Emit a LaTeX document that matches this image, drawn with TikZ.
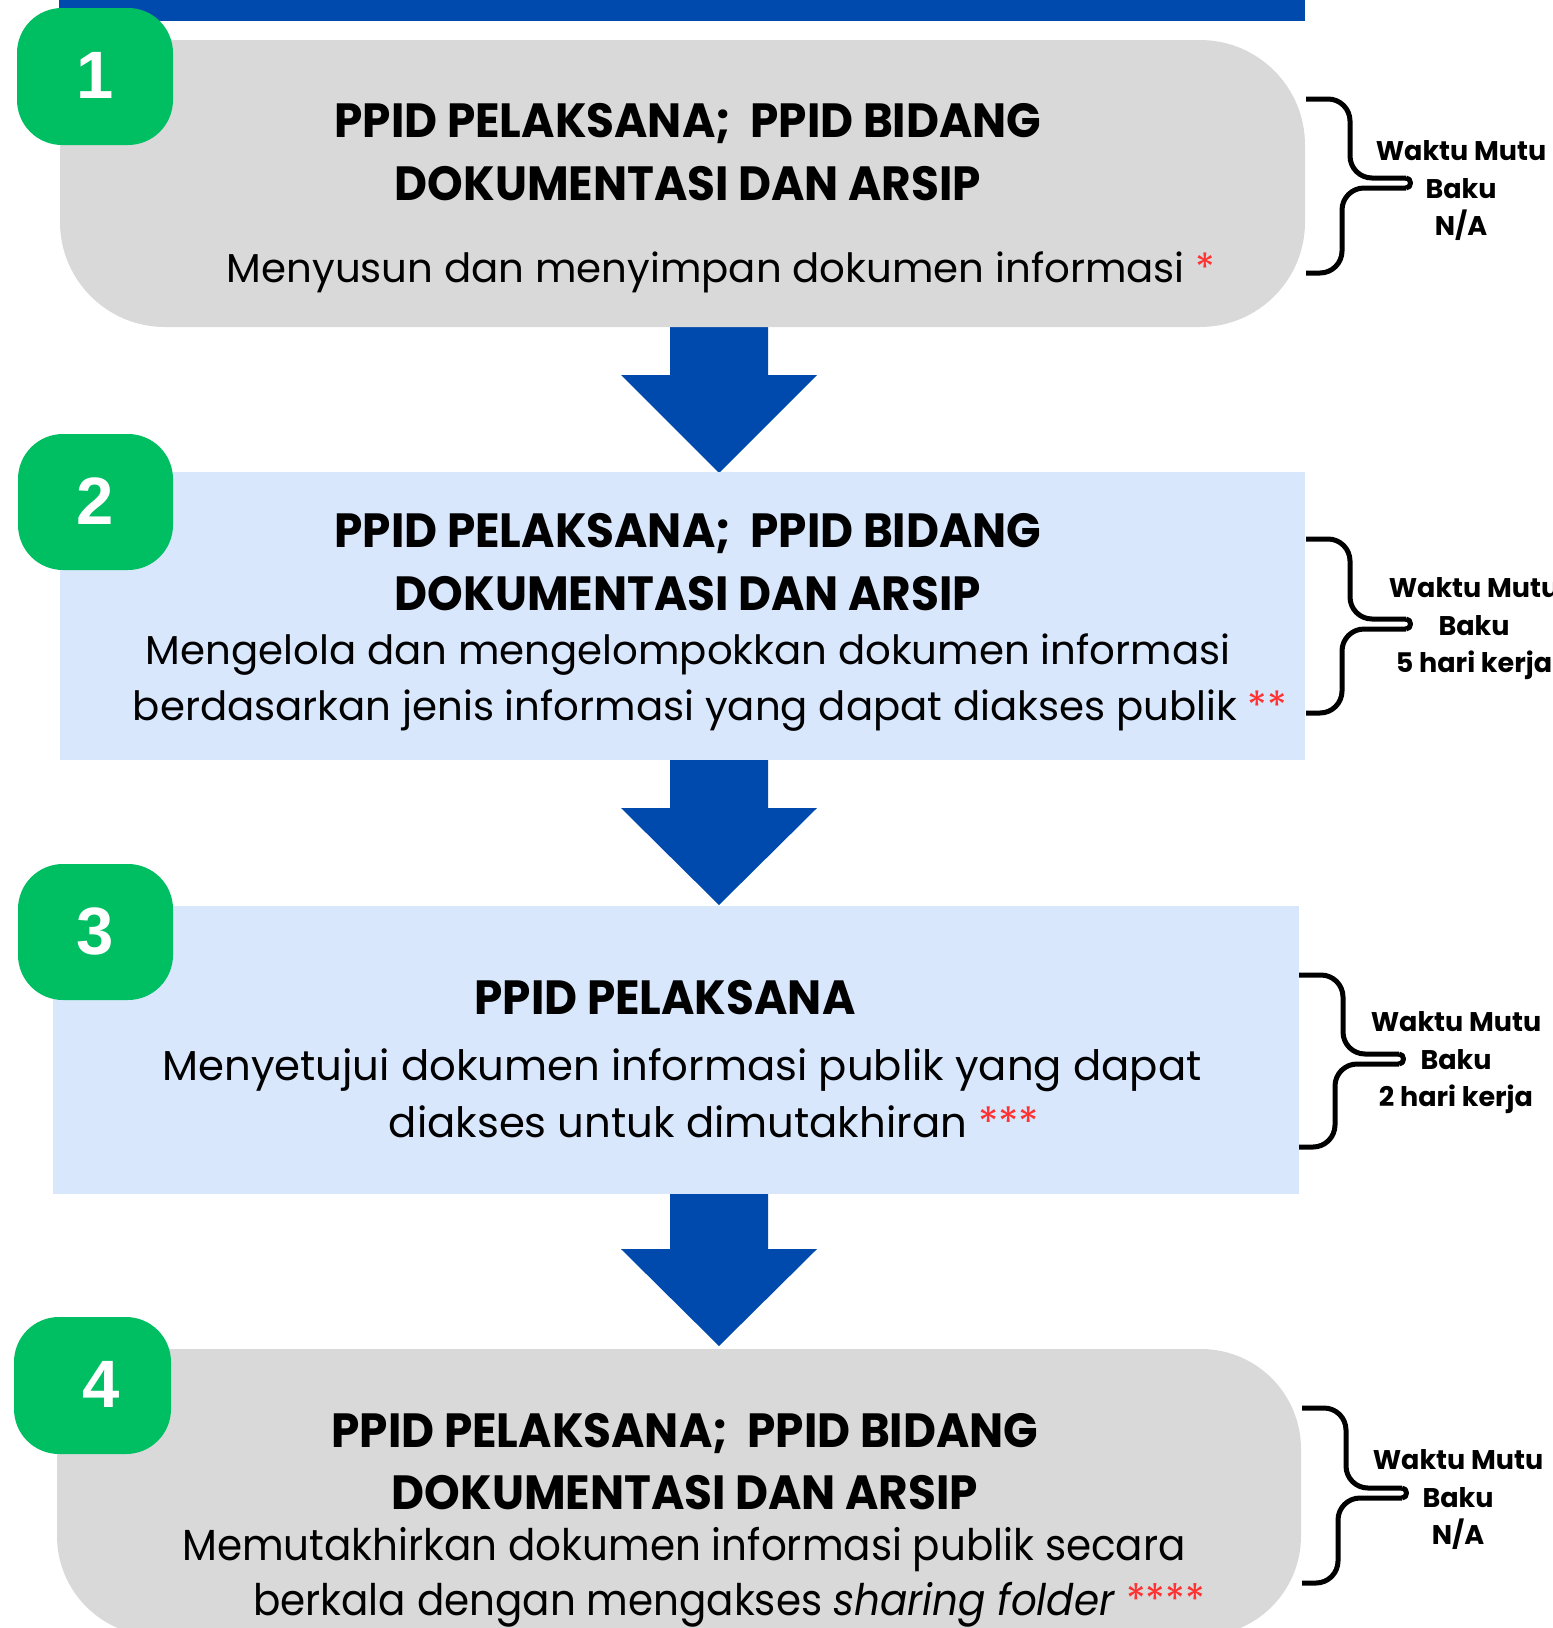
\documentclass[tikz,border=0pt]{standalone}
\usepackage{fontspec}
\setmainfont{Poppins}
\newfontfamily\titlefont{Poppins}[FakeStretch=0.945]
\newfontfamily\narrowfont{Poppins}[FakeStretch=0.93]
\newfontfamily\numfont{Liberation Sans}
\definecolor{barblue}{HTML}{004AAD}
\definecolor{boxgray}{HTML}{D9D9D9}
\definecolor{boxblue}{HTML}{D9E7FD}
\definecolor{badgegreen}{HTML}{00BF63}
\definecolor{starred}{HTML}{FF3131}
\newcommand\stars[1]{{\color{starred}#1}}
\newcommand\wbrace[4]{%
  \draw[bracestyle,rounded corners=22pt] (#1,#2) -- ({#1+44},#2) -- ({#1+44},{#3-5}) -- ({#1+100},{#3-5});
  \draw[bracestyle] ({#1+100},{#3-5}) .. controls ({#1+106},{#3-5}) and ({#1+106},{#3+5}) .. ({#1+100},{#3+5});
  \draw[bracestyle,rounded corners=22pt] ({#1+100},{#3+5}) -- ({#1+36},{#3+5}) -- ({#1+36},#4) -- (#1,#4);
}
\begin{document}
\begin{tikzpicture}[x=1pt,y=-1pt,
  titletext/.style={font=\titlefont\bfseries\fontsize{48}{58}\selectfont, anchor=base, inner sep=0pt},
  bodytext/.style={font=\fontsize{40.3}{50}\selectfont, anchor=base, inner sep=0pt},
  bodybig/.style={font=\fontsize{41.8}{50}\selectfont, anchor=base, inner sep=0pt},
  bodynarrow/.style={font=\narrowfont\fontsize{43.5}{50}\selectfont, anchor=base, inner sep=0pt},
  waktu/.style={font=\bfseries\fontsize{27}{37.5}\selectfont, align=center, inner sep=0pt},
  numtext/.style={font=\numfont\bfseries\fontsize{67}{67}\selectfont, text=white, anchor=base, inner sep=0pt},
  bracestyle/.style={line width=5pt, line join=round},
  arrowfill/.style={fill=barblue},
  badge/.style={fill=badgegreen, rounded corners=45pt}
]
\useasboundingbox (0,0) rectangle (1553,1628);
\fill[white] (0,0) rectangle (1553,1628);

% top bar
\fill[barblue] (59,0) rectangle (1305,21);

% arrows (behind boxes)
\fill[arrowfill] (670,320) -- (768,320) -- (768,375) -- (817,375) -- (719,473) -- (621,375) -- (670,375) -- cycle;
\fill[arrowfill] (670,754) -- (768,754) -- (768,808) -- (817,808) -- (719,905) -- (621,808) -- (670,808) -- cycle;
\fill[arrowfill] (670,1190) -- (768,1190) -- (768,1249) -- (817,1249) -- (719,1346) -- (621,1249) -- (670,1249) -- cycle;

% box 1
\fill[boxgray, rounded corners=105pt] (60,40) rectangle (1305,327);
\fill[boxgray] (60,40) rectangle (200,200);
% box 2
\fill[boxblue] (60,472) rectangle (1305,760);
% box 3
\fill[boxblue] (53,906) rectangle (1299,1194);
% box 4
\fill[boxgray, rounded corners=100pt] (57,1349) rectangle (1301,1636);
\fill[boxgray] (57,1349) rectangle (200,1500);

% badges
\fill[badge] (17,8) rectangle (173,145);
\fill[badge] (18,434) rectangle (173,570);
\fill[badge] (18,864) rectangle (173,1000);
\fill[badge] (14,1317) rectangle (171,1454);
\node[numtext] (n1) at (95,98) {1};
\node[numtext] (n2) at (95,524) {2};
\node[numtext] (n3) at (95,954) {3};
\node[numtext] (n4) at (101,1407) {4};

% box 1 text
\node[titletext] (t1a) at (688,137) {PPID PELAKSANA;\ \ PPID BIDANG};
\node[titletext] (t1b) at (688,200) {DOKUMENTASI DAN ARSIP};
\node[bodytext] (b1) at (721,282) {Menyusun dan menyimpan dokumen informasi \stars{*}};

% box 2 text
\node[titletext] (t2a) at (688,547) {PPID PELAKSANA;\ \ PPID BIDANG};
\node[titletext] (t2b) at (688,610) {DOKUMENTASI DAN ARSIP};
\node[bodytext] (b2a) at (688,664) {Mengelola dan mengelompokkan dokumen informasi};
\node[bodytext] (b2b) at (710,720) {berdasarkan jenis informasi yang dapat diakses publik \stars{**}};

% box 3 text
\node[titletext] (t3a) at (665,1014) {PPID PELAKSANA};
\node[bodybig] (b3a) at (682,1080) {Menyetujui dokumen informasi publik yang dapat};
\node[bodybig] (b3b) at (714,1137) {diakses untuk dimutakhiran \stars{***}};

% box 4 text
\node[titletext] (t4a) at (685,1447) {PPID PELAKSANA;\ \ PPID BIDANG};
\node[titletext] (t4b) at (685,1509) {DOKUMENTASI DAN ARSIP};
\node[bodynarrow] (b4a) at (684,1560) {Memutakhirkan dokumen informasi publik secara};
\node[bodynarrow] (b4b) at (729,1615) {berkala dengan mengakses \textit{sharing folder} \stars{****}};

% braces
\wbrace{1306}{99}{183}{273}
\wbrace{1306}{539}{624}{713}
\wbrace{1299}{975}{1059}{1147}
\wbrace{1302}{1408}{1493}{1583}

\node[waktu] (w1) at (1461,191) {Waktu Mutu\\Baku\\N/A};
\node[waktu] (w2) at (1474,629) {Waktu Mutu\\Baku\\5 hari kerja};
\node[waktu] (w3) at (1456,1063) {Waktu Mutu\\Baku\\2 hari kerja};
\node[waktu] (w4) at (1458,1500) {Waktu Mutu\\Baku\\N/A};
\end{tikzpicture}
\end{document}
